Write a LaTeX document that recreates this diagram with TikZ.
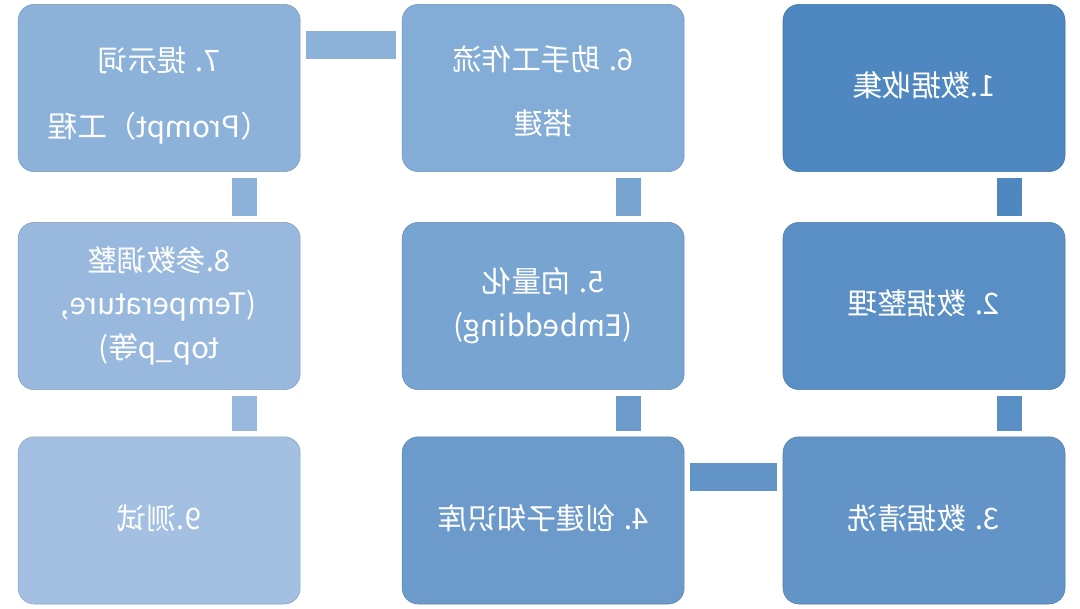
\documentclass[tikz,border=0pt]{standalone}
\usepackage{fontspec}
\setmainfont{Noto Sans CJK SC}
\usepackage{graphicx}
\usepackage{tikz}
\usetikzlibrary{positioning}

\definecolor{sone}{HTML}{4F88C0}
\definecolor{stwo}{HTML}{5A8FC5}
\definecolor{sthree}{HTML}{6394C8}
\definecolor{sfour}{HTML}{6C9BCB}
\definecolor{sfive}{HTML}{78A4D1}
\definecolor{ssix}{HTML}{83ACD6}
\definecolor{sseven}{HTML}{8DB2D9}
\definecolor{seight}{HTML}{98B9DD}
\definecolor{snine}{HTML}{A3C0E2}

% the reference is mirrored, so every label is reflected
\newcommand{\flipped}[1]{\reflectbox{\begin{tabular}{@{}c@{}}#1\end{tabular}}}

\tikzset{
    stepbox/.style={rectangle, rounded corners=0.4cm, minimum width=7.05cm,
        minimum height=4.18cm, fill=#1, draw=#1!85!black, line width=0.4pt,
        text=white, inner sep=0pt,
        font=\fontsize{21}{31}\selectfont},
    hbar/.style={draw=#1, line width=0.7cm, shorten <=0.15cm, shorten >=0.15cm},
    vbar/.style={draw=#1, line width=0.62cm, shorten <=0.15cm, shorten >=0.15cm}
}

\begin{document}
\begin{tikzpicture}
    \useasboundingbox (0,0) rectangle (27,15.2);
    \node[stepbox=sone] (s1) at (23.1, 13.0) {\flipped{1.数据收集}};
    \node[stepbox=stwo] (s2) at (23.1, 7.55) {\flipped{2. 数据整理}};
    \node[stepbox=sthree] (s3) at (23.1, 2.19) {\flipped{3. 数据清洗}};
    \node[stepbox=sfour] (s4) at (13.58, 2.19) {\flipped{4. 创建子知识库}};
    \node[stepbox=sfive] (s5) at (13.58, 7.55) {\flipped{5. 向量化\\(Embedding)}};
    \node[stepbox=ssix] (s6) at (13.58, 13.0) {\raisebox{-0.32cm}[0pt][0pt]{\flipped{6. 助手工作流\\[0.5cm]搭建}}};
    \node[stepbox=sseven] (s7) at (3.98, 13.0) {\raisebox{-0.38cm}[0pt][0pt]{\flipped{7. 提示词\\[0.55cm]（Prompt）工程}}};
    \node[stepbox=seight] (s8) at (3.98, 7.55) {\flipped{8.参数调整\\(Temperature,\\top\_p等)}};
    \node[stepbox=snine] (s9) at (3.98, 2.19) {\flipped{9.测试}};
    \draw[vbar=sone] ([xshift=2.13cm]s1.south) -- ([xshift=2.13cm]s2.north);
    \draw[vbar=stwo] ([xshift=2.13cm]s2.south) -- ([xshift=2.13cm]s3.north);
    \draw[hbar=sthree] ([yshift=1.08cm]s3.west) -- ([yshift=1.08cm]s4.east);
    \draw[vbar=sfour] ([xshift=2.13cm]s4.north) -- ([xshift=2.13cm]s5.south);
    \draw[vbar=sfive] ([xshift=2.13cm]s5.north) -- ([xshift=2.13cm]s6.south);
    \draw[hbar=sseven] ([yshift=1.08cm]s6.west) -- ([yshift=1.08cm]s7.east);
    \draw[vbar=sseven] ([xshift=2.13cm]s7.south) -- ([xshift=2.13cm]s8.north);
    \draw[vbar=seight] ([xshift=2.13cm]s8.south) -- ([xshift=2.13cm]s9.north);
\end{tikzpicture}
\end{document}
